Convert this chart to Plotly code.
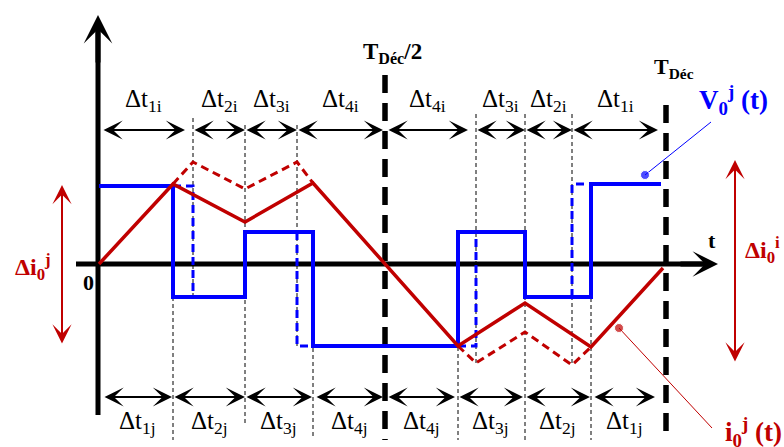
import plotly.graph_objects as go

# ---------------- data (schematic units: t = time, v = amplitude) ----------------
T_HALF = 286          # T_Déc / 2
T_FULL = 567          # T_Déc

# Output voltage V0j(t) (solid)
v_t = [0, 74, 74, 146, 146, 214, 214, 359, 359, 426, 426, 492, 492, 562]
v_val = [78, 78, -33, -33, 32, 32, -82, -82, 32, 32, -33, -33, 80, 80]

# Output voltage, shifted switching edges (dashed)
v_alt_t = [74, 94, 94, None, 198, 198, 214, None, 359, 377, 377, None, 473, 473, 492]
v_alt_val = [78, 78, -33, None, 32, -82, -82, None, -82, -82, 32, None, -33, 80, 80]

# Output current i0j(t) (solid)
i_t = [0, 74, 146, 214, 359, 426, 492, 564]
i_val = [0, 80, 42, 81, -82, -39, -83, -4]

# Output current, other case (dashed)
i_alt_t = [74, 94, 146, 198, 214, None, 359, 377, 426, 473, 492]
i_alt_val = [80, 102, 75, 102, 81, None, -82, -99, -68, -101, -83]

# Interval arrows (top: "i" intervals, bottom: "j" intervals)
top_start = [3, 94, 146, 198, 288, 377, 426, 473]
top_end = [86, 146, 198, 284, 369, 426, 473, 559]
top_labels = ["Δt<sub>1i</sub>", "Δt<sub>2i</sub>", "Δt<sub>3i</sub>", "Δt<sub>4i</sub>",
              "Δt<sub>4i</sub>", "Δt<sub>3i</sub>", "Δt<sub>2i</sub>", "Δt<sub>1i</sub>"]
bot_start = [4, 74, 146, 216, 288, 359, 426, 494]
bot_end = [73, 146, 213, 284, 356, 424, 491, 556]
bot_labels = ["Δt<sub>1j</sub>", "Δt<sub>2j</sub>", "Δt<sub>3j</sub>", "Δt<sub>4j</sub>",
              "Δt<sub>4j</sub>", "Δt<sub>3j</sub>", "Δt<sub>2j</sub>", "Δt<sub>1j</sub>"]
TOP_LEVEL = 134
BOT_LEVEL = -133

# Thin dotted guide lines: time, top value, bottom value
guide_t = [94, 146, 198, 74, 214, 377, 359, 426, 473, 492]
guide_top = [146, 139, 139, -33, -84, 150, -83, 150, 150, -34]
guide_bot = [-34, -161, -82, -176, -173, -99, -176, -176, -101, -176]

# Ripple amplitude arrows
ripple_j = (-37, 79, -81)     # t, top, bottom
ripple_i = (636, 104, -99)

# Label pointers (dot end first)
ptr_v_t, ptr_v_val = [546, 612], [89, 142]
ptr_i_t, ptr_i_val = [520, 613], [-64, -164]

BLUE = "#0000FF"
RED = "#C00000"
FONT = "Liberation Serif"

fig = go.Figure()

# guide lines
gx, gy = [], []
for t, a, b in zip(guide_t, guide_top, guide_bot):
    gx += [t, t, None]
    gy += [a, b, None]
fig.add_trace(go.Scatter(x=gx, y=gy, mode="lines",
                         line=dict(color="black", width=1, dash="4px,3px"),
                         hoverinfo="skip"))

# period markers
fig.add_trace(go.Scatter(x=[T_HALF, T_HALF, None, T_FULL, T_FULL],
                         y=[189, -176, None, 159, -176], mode="lines",
                         line=dict(color="black", width=5.5, dash="18px,10px"),
                         hoverinfo="skip"))

# axes
fig.add_trace(go.Scatter(x=[-23, 612], y=[0, 0], mode="lines",
                         line=dict(color="black", width=5), hoverinfo="skip"))
fig.add_trace(go.Scatter(x=[-1, -1], y=[-151, 240], mode="lines",
                         line=dict(color="black", width=5), hoverinfo="skip"))

# voltage
fig.add_trace(go.Scatter(x=v_alt_t, y=v_alt_val, mode="lines",
                         line=dict(color=BLUE, width=3, dash="8px,5px"), hoverinfo="skip"))
fig.add_trace(go.Scatter(x=v_t, y=v_val, mode="lines",
                         line=dict(color=BLUE, width=4), hoverinfo="skip"))
# current
fig.add_trace(go.Scatter(x=i_alt_t, y=i_alt_val, mode="lines",
                         line=dict(color=RED, width=3, dash="8px,5px"), hoverinfo="skip"))
fig.add_trace(go.Scatter(x=i_t, y=i_val, mode="lines",
                         line=dict(color=RED, width=3.5), hoverinfo="skip"))

# pointers
fig.add_trace(go.Scatter(x=ptr_v_t, y=ptr_v_val, mode="lines+markers",
                         line=dict(color=BLUE, width=1),
                         marker=dict(color=BLUE, size=[9, 0]), hoverinfo="skip"))
fig.add_trace(go.Scatter(x=ptr_i_t, y=ptr_i_val, mode="lines+markers",
                         line=dict(color=RED, width=1),
                         marker=dict(color=RED, size=[9, 0]), hoverinfo="skip"))

ann = []


def dbl_arrow(x0, y0, x1, y1, color, width, size):
    ann.append(dict(x=x1, y=y1, ax=x0, ay=y0, xref="x", yref="y", axref="x", ayref="y",
                    text="", showarrow=True, arrowhead=3, startarrowhead=3,
                    arrowside="end+start", arrowwidth=width, arrowsize=size,
                    startarrowsize=size, arrowcolor=color))


def sgl_arrow(x0, y0, x1, y1, color, width, size):
    ann.append(dict(x=x1, y=y1, ax=x0, ay=y0, xref="x", yref="y", axref="x", ayref="y",
                    text="", showarrow=True, arrowhead=3, arrowside="end",
                    arrowwidth=width, arrowsize=size, arrowcolor=color))


# axis arrowheads
sgl_arrow(-1, 200, -1, 249, "black", 5, 0.95)
sgl_arrow(580, 0, 619, 0, "black", 5, 0.85)

for s, e, lab in zip(top_start, top_end, top_labels):
    dbl_arrow(s, TOP_LEVEL, e, TOP_LEVEL, "black", 2, 1.6)
    ann.append(dict(x=(s + e) / 2, y=164, xref="x", yref="y", text=lab, showarrow=False,
                    font=dict(family=FONT, size=25, color="black")))
for s, e, lab in zip(bot_start, bot_end, bot_labels):
    dbl_arrow(s, BOT_LEVEL, e, BOT_LEVEL, "black", 2, 1.6)
    ann.append(dict(x=(s + e) / 2, y=-158, xref="x", yref="y", text=lab, showarrow=False,
                    font=dict(family=FONT, size=25, color="black")))

dbl_arrow(ripple_j[0], ripple_j[2], ripple_j[0], ripple_j[1], RED, 2, 1.6)
dbl_arrow(ripple_i[0], ripple_i[2], ripple_i[0], ripple_i[1], RED, 2, 1.6)


def label(x, y, text, color, size, xanchor="center", bold=True):
    ann.append(dict(x=x, y=y, xref="x", yref="y", text=("<b>%s</b>" % text) if bold else text,
                    showarrow=False, xanchor=xanchor, yanchor="middle",
                    font=dict(family=FONT, size=size, color=color)))


label(598, 164, "V<sub>0</sub><sup>j</sup> (t)", BLUE, 27, "left")
label(624, -168, "i<sub>0</sub><sup>j</sup> (t)", RED, 27, "left")
label(-86, -3, "Δi<sub>0</sub><sup>j</sup>", RED, 24, "left")
label(644, 14, "Δi<sub>0</sub><sup>i</sup>", RED, 24, "left")
label(293, 211, "T<sub>Déc</sub>/2", "black", 23)
label(575, 196, "T<sub>Déc</sub>", "black", 22)
label(613, 24, "t", "black", 22)
label(-11, -18, "0", "black", 22)

fig.update_layout(
    width=784, height=447, margin=dict(l=0, r=0, t=0, b=0),
    paper_bgcolor="white", plot_bgcolor="white", showlegend=False,
    xaxis=dict(range=[-99, 685], visible=False, fixedrange=True),
    yaxis=dict(range=[-183, 264], visible=False, fixedrange=True),
    annotations=ann,
)

fig.write_html("out.html", config={"displayModeBar": False},
               post_script="document.body.style.margin='0px';document.body.style.overflow='hidden';")
